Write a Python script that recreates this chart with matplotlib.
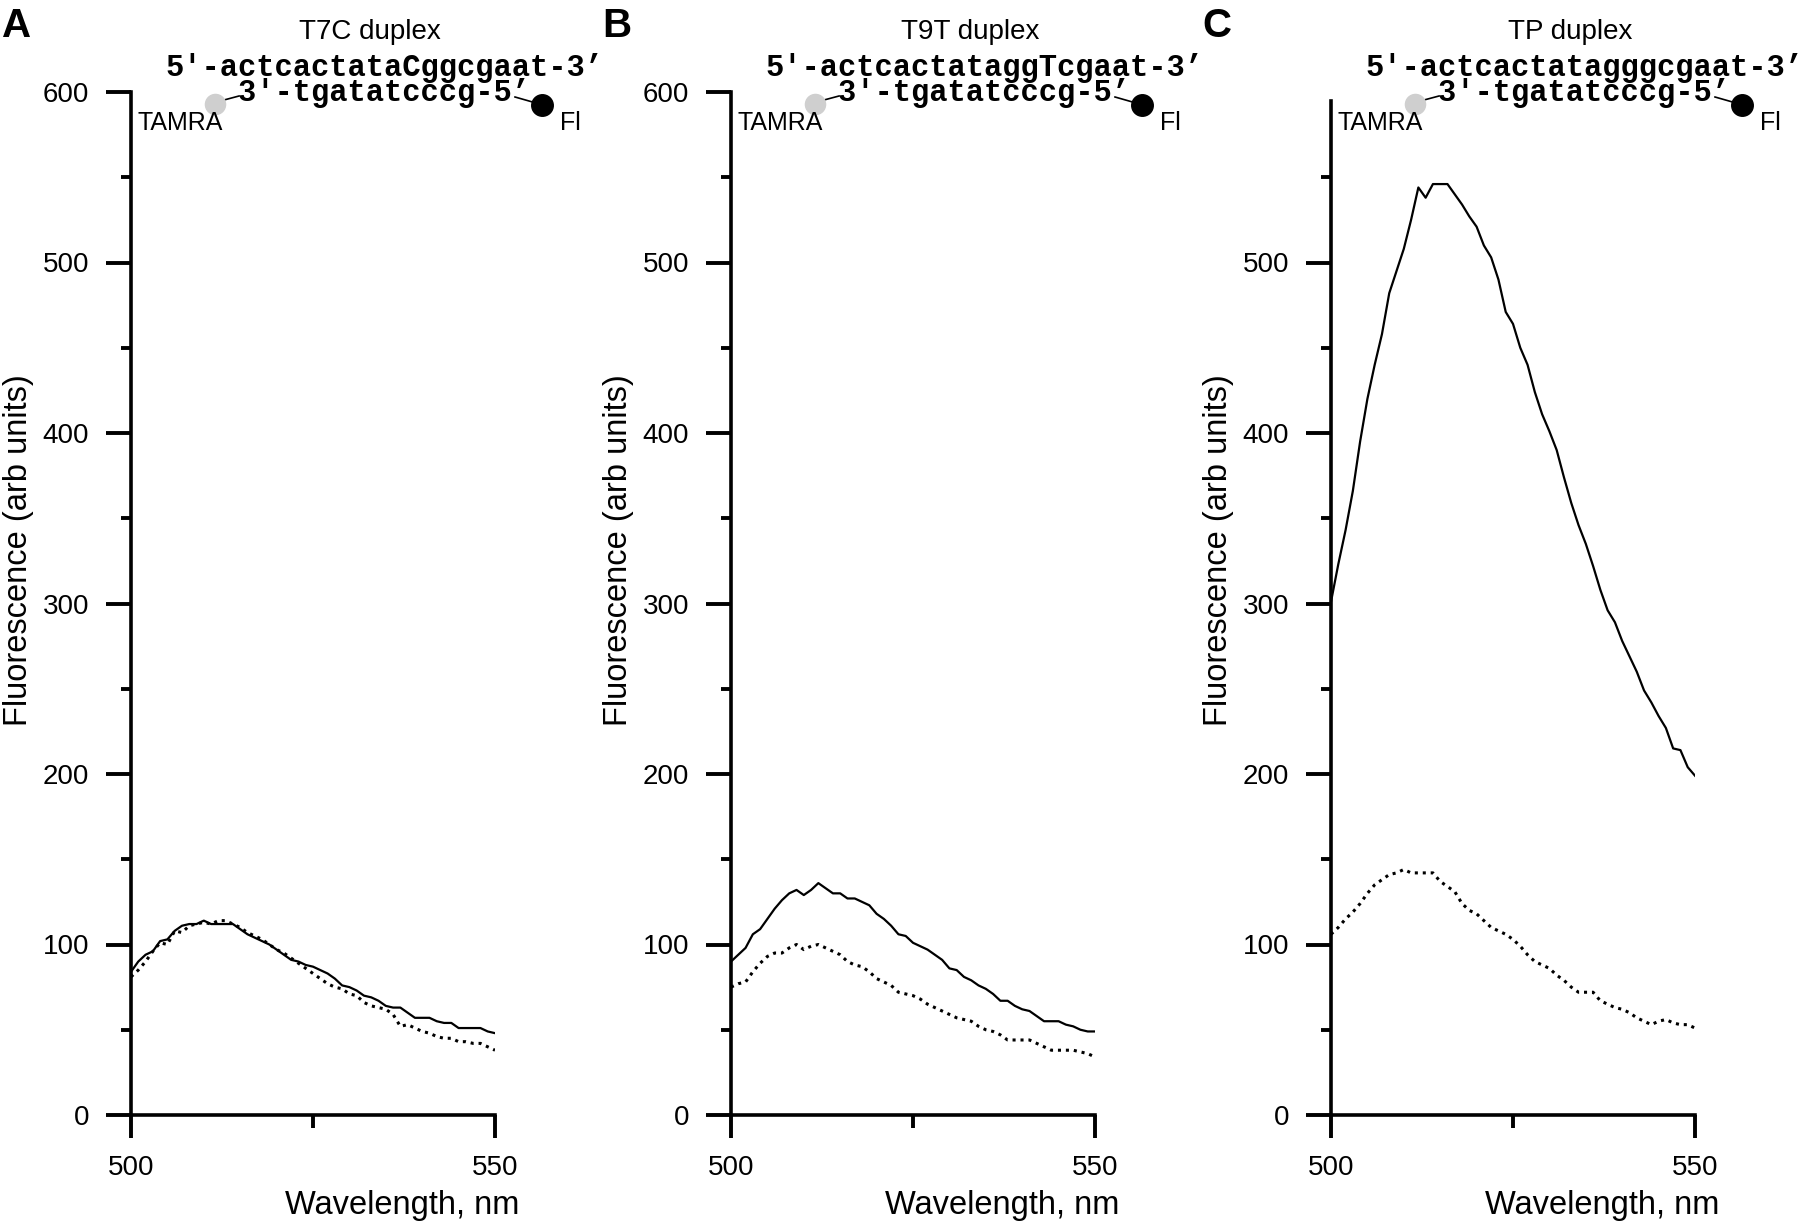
import numpy as np
import matplotlib
matplotlib.use("Agg")
import matplotlib.pyplot as plt
from matplotlib.lines import Line2D
from matplotlib.ticker import FixedLocator

plt.rcParams['font.family'] = ['Liberation Sans', 'DejaVu Sans']

# wavelength grid, 1 nm steps
wl = np.arange(500, 551)

# panel A: T7C duplex
a_solid = [84, 90, 94, 96, 102, 103, 108, 111, 112, 112, 114, 112, 112, 112, 112, 109, 106,
           104, 102, 100, 97, 94, 91, 90, 88, 87, 85, 83, 80, 76, 75, 73, 70, 69, 67, 64,
           63, 63, 60, 57, 57, 57, 55, 54, 54, 51, 51, 51, 51, 49, 48]
a_dot = [81, 85, 90, 96, 101, 100, 108, 107, 111, 112, 113, 112, 114, 114, 112, 110, 107,
         105, 103, 100, 97, 95, 92, 89, 86, 83, 80, 77, 75, 74, 71, 70, 66, 64, 63, 62,
         59, 52, 53, 51, 49, 48, 46, 45, 45, 43, 43, 42, 42, 40, 38]

# panel B: T9T duplex
b_solid = [90, 94, 98, 106, 109, 115, 121, 126, 130, 132, 129, 132, 136, 133, 130, 130, 127,
           127, 125, 123, 118, 115, 111, 106, 105, 101, 99, 97, 94, 91, 86, 85, 81, 79, 76,
           74, 71, 67, 67, 64, 62, 61, 58, 55, 55, 55, 53, 52, 50, 49, 49]
b_dot = [75, 77, 78, 84, 89, 93, 95, 95, 98, 100, 97, 99, 100, 98, 96, 94, 90, 88, 87, 84,
         80, 78, 76, 72, 71, 70, 68, 65, 63, 61, 59, 57, 56, 55, 52, 50, 49, 47, 44, 44,
         44, 44, 42, 40, 38, 38, 38, 38, 37, 36, 34]

# panel C: TP duplex
c_solid = [301, 323, 343, 366, 395, 420, 440, 458, 482, 495, 508, 525, 544, 538, 546, 546,
           546, 540, 534, 527, 521, 510, 503, 490, 471, 464, 450, 440, 424, 411, 401, 390,
           374, 359, 346, 335, 322, 308, 296, 289, 278, 269, 260, 249, 242, 234, 227, 215,
           214, 204, 199]
c_dot = [106, 110, 115, 119, 124, 130, 135, 138, 141, 142, 144, 142, 142, 142, 142, 137, 134,
         131, 124, 120, 118, 114, 110, 108, 106, 103, 99, 94, 90, 88, 86, 82, 79, 75, 72,
         72, 72, 67, 65, 63, 62, 60, 57, 55, 53, 55, 56, 54, 53, 53, 51]

letters = ['A', 'B', 'C']
titles = ['T7C duplex', 'T9T duplex', 'TP duplex']
top_strands = ["5'-actcactataCggcgaat-3\u2019",
               "5'-actcactataggTcgaat-3\u2019",
               "5'-actcactatagggcgaat-3\u2019"]
bottom_strand = "3'-tgatatcccg-5\u2019"
solids = [a_solid, b_solid, c_solid]
dots = [a_dot, b_dot, c_dot]

W, H = 1800, 1229
fig = plt.figure(figsize=(W / 100, H / 100), dpi=100)

lefts = [131, 731, 1331]
ax_w = 364
y_bot, y_top = 1115, 92


def fx(x):
    return x / W


def fy(y):
    return 1 - y / H


for i in range(3):
    L = lefts[i]
    ax = fig.add_axes([fx(L), fy(y_bot), ax_w / W, (y_bot - y_top) / H])
    ax.plot(wl, solids[i], color='black', lw=1.6)
    ax.plot(wl, dots[i], color='black', lw=2.2, linestyle=(0, (1, 1.6)))

    ax.set_xlim(500, 550)
    ax.set_ylim(0, 600)
    for s in ['top', 'right']:
        ax.spines[s].set_visible(False)
    for s in ['left', 'bottom']:
        ax.spines[s].set_linewidth(2.6)
    if i == 2:
        ax.spines['left'].set_bounds(0, 595)
        ax.set_yticks(np.arange(0, 501, 100))
    else:
        ax.set_yticks(np.arange(0, 601, 100))
    ax.yaxis.set_minor_locator(FixedLocator(np.arange(50, 551, 100)))
    ax.set_xticks([500, 550])
    ax.xaxis.set_minor_locator(FixedLocator([525]))

    ax.tick_params(axis='y', which='major', length=18, width=2.8, labelsize=20, pad=12)
    ax.tick_params(axis='y', which='minor', length=7, width=2.8)
    ax.tick_params(axis='x', which='major', length=16.5, width=2.8, labelsize=20, pad=12)
    ax.tick_params(axis='x', which='minor', length=9.5, width=2.8)

    ax.set_ylabel('Fluorescence (arb units)', fontsize=23.5, va='center')
    ax.yaxis.set_label_coords(-0.31, 0.552)
    ax.set_xlabel('Wavelength, nm', fontsize=23.5, va='center')
    ax.xaxis.set_label_coords(0.745, -0.088)

    # panel letter and title
    fig.text(fx(L - 129), fy(37), letters[i], fontsize=29, fontweight='bold',
             ha='left', va='baseline')
    fig.text(fx(L + 239), fy(39), titles[i], fontsize=20, ha='center', va='baseline')

    # duplex sequence, bottom strand shifted by 4 characters
    duplex = top_strands[i] + "\n    " + bottom_strand
    fig.text(fx(L + 34), fy(53), duplex, fontsize=22, linespacing=0.8,
             family=['Liberation Mono', 'DejaVu Sans Mono'], fontweight='bold',
             ha='left', va='top')

    # dye labels
    fig.add_artist(Line2D([fx(L + 93), fx(L + 108)], [fy(100), fy(96)],
                          color='black', lw=1.2, transform=fig.transFigure))
    fig.add_artist(Line2D([fx(L + 384), fx(L + 405)], [fy(97), fy(103)],
                          color='black', lw=1.2, transform=fig.transFigure))
    fig.add_artist(Line2D([fx(L + 84)], [fy(104)], marker='o', markersize=14.5,
                          color='#cfcfcf', transform=fig.transFigure))
    fig.add_artist(Line2D([fx(L + 411)], [fy(105)], marker='o', markersize=15.5,
                          color='black', transform=fig.transFigure))
    fig.text(fx(L + 7), fy(130), 'TAMRA', fontsize=18, ha='left', va='baseline')
    fig.text(fx(L + 429), fy(130), 'Fl', fontsize=18, ha='left', va='baseline')

fig.savefig('out.png', dpi=100)
